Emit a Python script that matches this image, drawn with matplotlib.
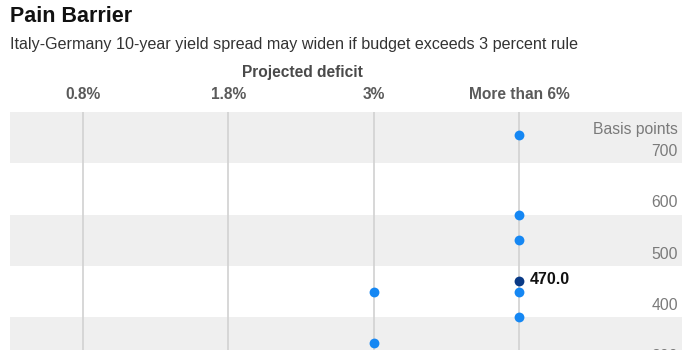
import matplotlib.pyplot as plt

plt.rcParams['font.family'] = ['Liberation Sans', 'DejaVu Sans']

categories = ["0.8%", "1.8%", "3%", "More than 6%"]
# each dot: column index, spread in basis points
dot_col = [2, 2, 3, 3, 3, 3, 3]
dot_bp = [450, 350, 755, 600, 550, 450, 400]
hl_col = 3
hl_bp = 470.0
yticks = [300, 400, 500, 600, 700]
bands = [(300, 400), (500, 600), (700, 800)]

fig = plt.figure(figsize=(7, 3.5), dpi=100)
ax = fig.add_axes([10 / 700, 0, 672 / 700, 238 / 350])

for lo, hi in bands:
    ax.axhspan(lo, hi, color="#efefef", lw=0, zorder=0)

for i in range(len(categories)):
    ax.axvline(i, color="#d4d4d4", lw=1.3, zorder=1)

ax.scatter(dot_col, dot_bp, s=50, color="#1587f3", lw=0, zorder=3)
ax.scatter([hl_col], [hl_bp], s=50, color="#0a3a86", lw=0, zorder=4)
ax.text(hl_col + 0.075, hl_bp + 3, f"{hl_bp:.1f}", fontsize=11.5, fontweight="bold",
        color="#111111", va="center", ha="left", zorder=5)

# y labels, right side, sitting above their gridline
tr = ax.get_yaxis_transform()
for v in yticks:
    ax.text(0.994, v + 8, str(v), transform=tr, ha="right", va="bottom",
            fontsize=11.3, color="#7a7a7a")
ax.text(0.994, 766, "Basis points", transform=tr, ha="right", va="center",
        fontsize=11.3, color="#7a7a7a")

ax.set_xlim(-0.502, 4.122)
ax.set_ylim(336, 800)
ax.axis("off")

# column headers
for i, c in enumerate(categories):
    xf = (10 + 73 + i * 145.3) / 700
    fig.text(xf, 1 - 95 / 350, c, ha="center", va="center", fontsize=11.2,
             fontweight="bold", color="#5a5a5a")
fig.text(302 / 700, 1 - 73 / 350, "Projected deficit", ha="center", va="center",
         fontsize=11.2, fontweight="bold", color="#4a4a4a")

fig.text(10 / 700, 1 - 16 / 350, "Pain Barrier", ha="left", va="center",
         fontsize=15.5, fontweight="bold", color="#111111")
fig.text(10 / 700, 1 - 44 / 350,
         "Italy-Germany 10-year yield spread may widen if budget exceeds 3 percent rule",
         ha="left", va="center", fontsize=11.6, color="#333333")

fig.savefig("out.png", dpi=100, facecolor="white")
